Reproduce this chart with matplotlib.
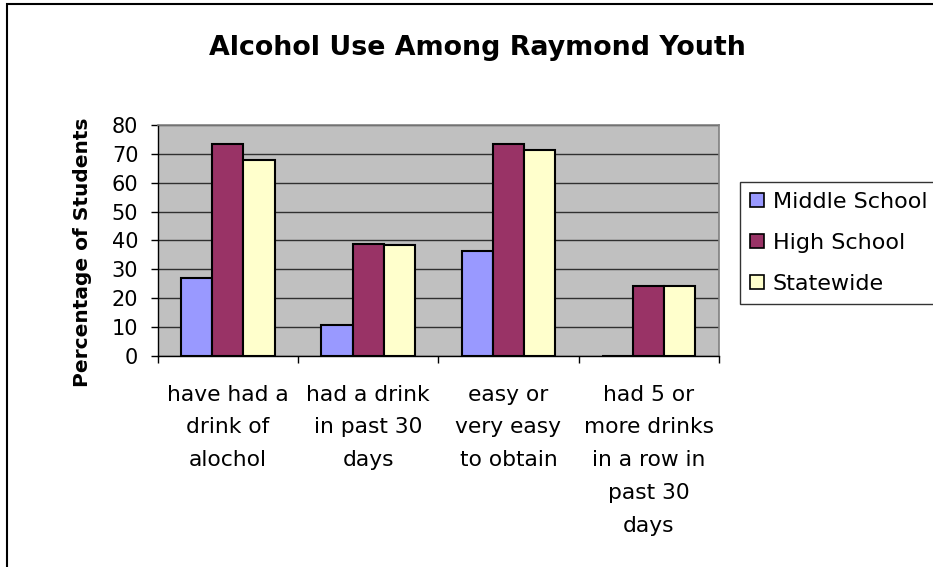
import matplotlib
matplotlib.use("Agg")
import matplotlib.pyplot as plt
import numpy as np
from matplotlib.patches import Rectangle, Patch

plt.rcParams['font.family'] = ['DejaVu Sans']

categories = ["have had a\ndrink of\nalochol",
              "had a drink\nin past 30\ndays",
              "easy or\nvery easy\nto obtain",
              "had 5 or\nmore drinks\nin a row in\npast 30\ndays"]
series_names = ["Middle School", "High School", "Statewide"]
middle_school = [27, 10.7, 36.3, 0]
high_school = [73.3, 38.8, 73.3, 24.1]
statewide = [67.9, 38.3, 71.3, 24.1]
colors = ["#9999FF", "#993366", "#FFFFCC"]
yticks = [0, 10, 20, 30, 40, 50, 60, 70, 80]

W, H = 933, 567
fig = plt.figure(figsize=(W/100, H/100), dpi=100)
ax = fig.add_axes([157.7/W, 1-356.2/H, (718.8-157.7)/W, (356.2-124.7)/H])
ax.set_facecolor("#C0C0C0")

x = np.arange(len(categories))
w = 0.667/3
handles = []
for i, (vals, name, c) in enumerate(zip([middle_school, high_school, statewide], series_names, colors)):
    ax.bar(x + (i-1)*w, vals, width=w, color=c, edgecolor="black", linewidth=1.5, zorder=3)
    handles.append(Patch(facecolor=c, edgecolor="black", linewidth=1.2, label=name))

ax.set_xlim(-0.5, len(categories)-0.5)
ax.set_ylim(0, 80)
ax.set_yticks(yticks)
ax.set_yticklabels([str(t) for t in yticks], fontsize=15)
ax.tick_params(axis='y', direction='out', length=5, width=1, pad=9)
ax.grid(axis='y', color='#303030', linewidth=1, zorder=1)
ax.set_axisbelow(True)

ax.set_xticks(x)
ax.set_xticklabels(categories, fontsize=15.7, linespacing=1.80, va='top')
ax.tick_params(axis='x', which='major', length=0, pad=20.5)
ax.set_xticks(np.arange(-0.5, len(categories)), minor=True)
ax.tick_params(axis='x', which='minor', direction='out', length=5, width=1)

for s in ['top', 'right']:
    ax.spines[s].set_color('#808080')
    ax.spines[s].set_linewidth(1.2)
for s in ['left', 'bottom']:
    ax.spines[s].set_color('black')
    ax.spines[s].set_linewidth(1)

ax.set_ylabel("Percentage of Students", fontsize=14.5, fontweight='bold')
ax.yaxis.set_label_coords((92-157.7)/(718.8-157.7), (356.2-252.5)/(356.2-124.7))

fig.text(477/W, 1-55/H, "Alcohol Use Among Raymond Youth", fontsize=19.4,
         fontweight='bold', ha='center', va='baseline')

leg = fig.legend(handles=handles, loc='upper left', bbox_to_anchor=(740/W, 1-182/H),
                 fontsize=16, frameon=True, fancybox=False, shadow=False,
                 handlelength=0.63, handleheight=0.57, handletextpad=0.39,
                 labelspacing=0.935, borderpad=0.45, borderaxespad=0)
leg.get_frame().set_edgecolor('black')
leg.get_frame().set_linewidth(1)

fig.add_artist(Rectangle((7.5/W, -0.1), 1.2, 1.1 - 3.5/H, transform=fig.transFigure,
                         fill=False, edgecolor='black', linewidth=1.5))

fig.savefig("out.png", dpi=100)
